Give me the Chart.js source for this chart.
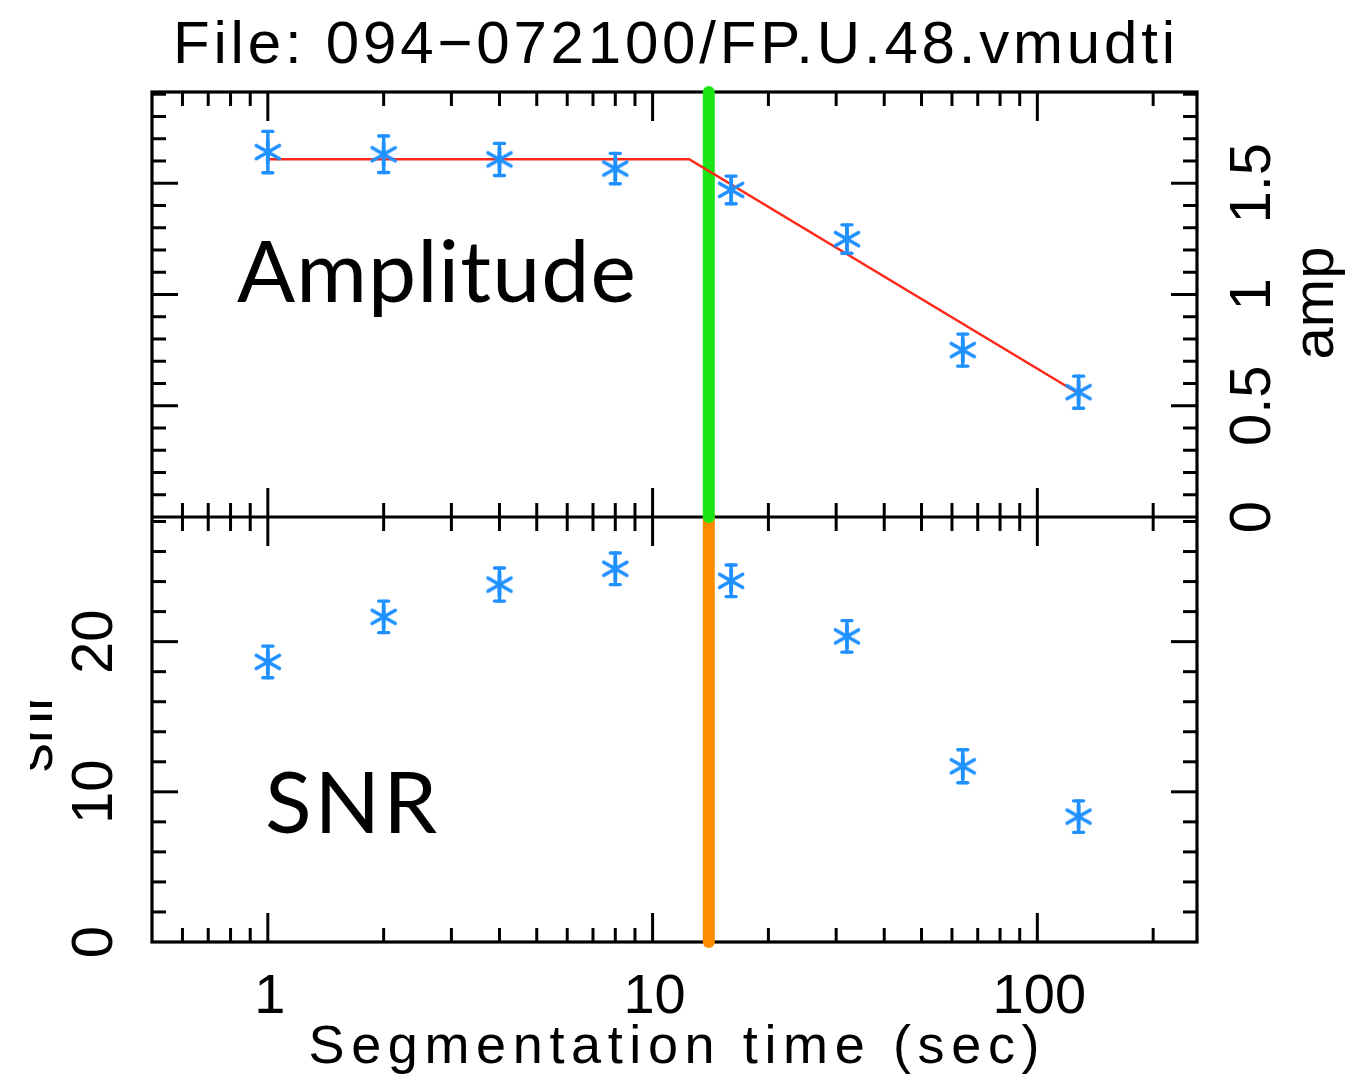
<!DOCTYPE html>
<html>
<head>
<meta charset="utf-8">
<script src="https://cdn.jsdelivr.net/npm/chart.js@4.4.1/dist/chart.umd.min.js"></script>
<style>
html,body{margin:0;padding:0;background:#fff;}
#wrap{width:1350px;height:1074px;position:relative;overflow:hidden;}
canvas{display:block;}
</style>
</head>
<body>
<div id="wrap"><canvas id="c" width="1350" height="1074"></canvas></div>
<script>
// ---- data ----
const segTimes   = [1, 2, 4, 8, 16, 32, 64, 128];
const ampValues  = [1.64, 1.63, 1.607, 1.566, 1.47, 1.249, 0.75, 0.561];
const ampErrors  = [0.093, 0.082, 0.072, 0.068, 0.062, 0.064, 0.072, 0.072];
const snrValues  = [18.65, 21.65, 23.8, 24.85, 24.05, 20.35, 11.7, 8.35];
const snrErrors  = [1.05, 1.05, 1.1, 1.05, 1.05, 1.05, 1.1, 1.05];
const fitTimes   = [1, 12.45, 128];
const fitAmp     = [1.608, 1.608, 0.555];
const breakTime  = [14];
const xTickValues = [1, 10, 100];
const xTickLabels = ['1', '10', '100'];
const ampTickValues = [0, 0.5, 1, 1.5];
const ampTickLabels = ['0', '0.5', '1', '1.5'];
const snrTickValues = [0, 10, 20];
const snrTickLabels = ['0', '10', '20'];
const titleText = 'File: 094\u2212072100/FP.U.48.vmudti';
const xTitle = 'Segmentation time (sec)';
const ampTitle = 'amp';
const snrTitle = 'snr';
const panelLabels = ['Amplitude', 'SNR'];

// axis ranges
const X_MIN = 0.5, X_MAX = 260;
const AMP_TOP = 1.91, SNR_TOP = 28.3;

const BLUE = 'rgb(30,144,255)';
const RED = 'rgb(255,40,25)';
const GREEN = 'rgb(25,230,20)';
const ORANGE = 'rgb(255,140,0)';
const SANS = '"Liberation Sans", Arial, sans-serif';

// asterisk marker image
function makeAsterisk() {
  const c = document.createElement('canvas');
  c.width = 32; c.height = 32;
  const g = c.getContext('2d');
  g.strokeStyle = BLUE; g.lineWidth = 3.6; g.lineCap = 'round';
  g.translate(16, 16);
  g.beginPath();
  g.moveTo(0, -11); g.lineTo(0, 11);
  g.moveTo(-11.5, -6.5); g.lineTo(11.5, 6.5);
  g.moveTo(-11.5, 6.5); g.lineTo(11.5, -6.5);
  g.stroke();
  return c;
}
const asterisk = makeAsterisk();

const ampPoints = segTimes.map((t, i) => ({x: t, y: ampValues[i]}));
const snrPoints = segTimes.map((t, i) => ({x: t, y: snrValues[i]}));
const fitPoints = fitTimes.map((t, i) => ({x: t, y: fitAmp[i]}));

function line(ctx, x1, y1, x2, y2) {
  ctx.beginPath(); ctx.moveTo(x1, y1); ctx.lineTo(x2, y2); ctx.stroke();
}

const framePlugin = {
  id: 'frame',
  beforeDatasetsDraw(chart) {
    const ctx = chart.ctx, a = chart.chartArea;
    const sx = chart.scales.x, ya = chart.scales.yAmp, ys = chart.scales.ySnr;
    const mid = ya.getPixelForValue(0);
    ctx.save();
    ctx.strokeStyle = '#000';
    ctx.lineWidth = 3.2;
    ctx.lineCap = 'butt';
    ctx.strokeRect(a.left, a.top, a.right - a.left, a.bottom - a.top);
    line(ctx, a.left, mid, a.right, mid);
    ctx.lineWidth = 3;
    // x ticks (log)
    for (let d = -1; d <= 2; d++) {
      for (let m = 1; m <= 9; m++) {
        const v = m * Math.pow(10, d);
        if (v <= X_MIN || v >= X_MAX) continue;
        const px = sx.getPixelForValue(v);
        const L = (m === 1) ? 29 : 14;
        line(ctx, px, a.top, px, a.top + L);
        line(ctx, px, mid - L, px, mid + L);
        line(ctx, px, a.bottom - L, px, a.bottom);
      }
    }
    // amp ticks
    for (let k = 1; k * 0.1 < AMP_TOP; k++) {
      const v = k * 0.1;
      const py = ya.getPixelForValue(v);
      const L = (k % 5 === 0) ? 26 : 14;
      line(ctx, a.left, py, a.left + L, py);
      line(ctx, a.right - L, py, a.right, py);
    }
    // snr ticks
    for (let k = 1; k * 2 < SNR_TOP; k++) {
      const v = k * 2;
      const py = ys.getPixelForValue(v);
      const L = (k % 5 === 0) ? 26 : 14;
      line(ctx, a.left, py, a.left + L, py);
      line(ctx, a.right - L, py, a.right, py);
    }
    ctx.restore();
  },
  afterDatasetsDraw(chart) {
    const ctx = chart.ctx;
    const sx = chart.scales.x, ya = chart.scales.yAmp, ys = chart.scales.ySnr;
    ctx.save();
    ctx.strokeStyle = BLUE;
    ctx.lineWidth = 3.4;
    ctx.lineCap = 'round';
    const cap = 5;
    const bar = (scale, i, val, err) => {
      const px = sx.getPixelForValue(segTimes[i]);
      const y1 = scale.getPixelForValue(val - err);
      const y2 = scale.getPixelForValue(val + err);
      line(ctx, px, y1, px, y2);
      line(ctx, px - cap, y1, px + cap, y1);
      line(ctx, px - cap, y2, px + cap, y2);
    };
    segTimes.forEach((t, i) => {
      bar(ya, i, ampValues[i], ampErrors[i]);
      bar(ys, i, snrValues[i], snrErrors[i]);
    });
    ctx.restore();
  },
  afterDraw(chart) {
    const ctx = chart.ctx;
    const sx = chart.scales.x, ya = chart.scales.yAmp, ys = chart.scales.ySnr;
    ctx.save();
    ctx.fillStyle = '#000';
    const spaced = (text, cx, by, font, target) => {
      ctx.font = font;
      ctx.letterSpacing = '0px';
      const w = ctx.measureText(text).width;
      let ls = 0;
      if (target) ls = (target - w) / (text.length - 1);
      ctx.letterSpacing = ls + 'px';
      ctx.textAlign = 'left';
      ctx.textBaseline = 'alphabetic';
      const tw = w + ls * (text.length - 1);
      ctx.fillText(text, cx - tw / 2, by);
      ctx.letterSpacing = '0px';
    };
    // title
    spaced(titleText, 674, 63, '60px ' + SANS, 1002);
    // x tick labels
    xTickValues.forEach((v, i) => {
      spaced(xTickLabels[i], sx.getPixelForValue(v) + 2, 1013, '56px ' + SANS, 0);
    });
    // x title
    spaced(xTitle, 674, 1063, '54px ' + SANS, 731);
    // rotated labels
    const rot = (text, bx, cy, font) => {
      ctx.save();
      ctx.translate(bx, cy);
      ctx.rotate(-Math.PI / 2);
      ctx.font = font;
      ctx.textAlign = 'center';
      ctx.textBaseline = 'alphabetic';
      ctx.fillText(text, 0, 0);
      ctx.restore();
    };
    ampTickValues.forEach((v, i) => rot(ampTickLabels[i], 1270, ya.getPixelForValue(v), '58px ' + SANS));
    rot(ampTitle, 1333, 303, '58px ' + SANS);
    snrTickValues.forEach((v, i) => rot(snrTickLabels[i], 112, ys.getPixelForValue(v), '58px ' + SANS));
    ctx.save();
    ctx.beginPath(); ctx.rect(30, 0, 1320, 1074); ctx.clip();
    rot(snrTitle, 52, 732, '58px ' + SANS);
    ctx.restore();
    // panel annotations
    ctx.font = '86px Lato, "Open Sans", sans-serif';
    ctx.textAlign = 'left';
    ctx.textBaseline = 'alphabetic';
    const fitW = (text, x, y, target) => {
      ctx.letterSpacing = '0px';
      const w = ctx.measureText(text).width;
      ctx.letterSpacing = ((target - w) / (text.length)) + 'px';
      ctx.fillText(text, x, y);
      ctx.letterSpacing = '0px';
    };
    fitW(panelLabels[0], 237, 302, 400);
    fitW(panelLabels[1], 265, 833, 175);
    ctx.restore();
  }
};

const hiddenAxis = {grid: {display: false}, border: {display: false}, ticks: {display: false}};

new Chart(document.getElementById('c'), {
  data: {
    datasets: [
      {type: 'scatter', data: ampPoints, xAxisID: 'x', yAxisID: 'yAmp', pointStyle: asterisk, pointRadius: 12, order: 1, showLine: false},
      {type: 'scatter', data: snrPoints, xAxisID: 'x', yAxisID: 'ySnr', pointStyle: asterisk, pointRadius: 12, order: 2, showLine: false},
      {type: 'line', data: fitPoints, xAxisID: 'x', yAxisID: 'yAmp', borderColor: RED, borderWidth: 2.6, pointRadius: 0, tension: 0, order: 3, fill: false},
      {type: 'line', data: [{x: breakTime[0], y: 0}, {x: breakTime[0], y: AMP_TOP}], xAxisID: 'x', yAxisID: 'yAmp', borderColor: GREEN, borderWidth: 12, borderCapStyle: 'round', pointRadius: 0, clip: false, order: 4, fill: false},
      {type: 'line', data: [{x: breakTime[0], y: 0}, {x: breakTime[0], y: SNR_TOP}], xAxisID: 'x', yAxisID: 'ySnr', borderColor: ORANGE, borderWidth: 12, borderCapStyle: 'round', pointRadius: 0, clip: false, order: 5, fill: false}
    ]
  },
  options: {
    responsive: false,
    animation: false,
    devicePixelRatio: 1,
    layout: {padding: {top: 92, left: 0, right: 0, bottom: 0}},
    plugins: {legend: {display: false}, tooltip: {enabled: false}, title: {display: false}},
    scales: {
      x: Object.assign({type: 'logarithmic', position: 'bottom', min: X_MIN, max: X_MAX,
        afterFit: s => { s.height = 132; }}, hiddenAxis),
      yAmp: Object.assign({type: 'linear', position: 'right', min: -AMP_TOP, max: AMP_TOP,
        afterFit: s => { s.width = 153; }}, hiddenAxis),
      ySnr: Object.assign({type: 'linear', position: 'left', min: 0, max: 2 * SNR_TOP,
        afterFit: s => { s.width = 152; }}, hiddenAxis)
    }
  },
  plugins: [framePlugin]
});
</script>
</body>
</html>
